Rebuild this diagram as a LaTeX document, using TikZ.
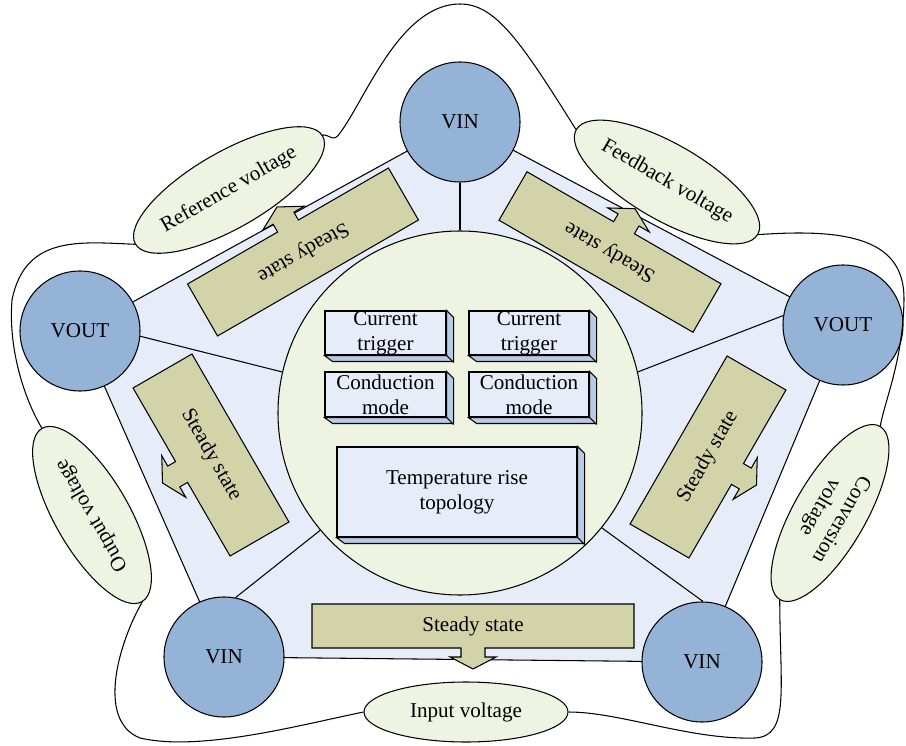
\documentclass[tikz,border=0pt]{standalone}
\usepackage{tikz}
\usepackage{xcolor}
\usepackage{fontspec}
\setmainfont{Liberation Serif}
\usetikzlibrary{shapes.geometric}

\definecolor{vblue}{HTML}{95B3D7}
\definecolor{pentfill}{HTML}{E6EDF8}
\definecolor{palegreen}{HTML}{EEF4E1}
\definecolor{stateolive}{HTML}{D3D3AA}
\definecolor{cubeface}{HTML}{E6EDF8}
\definecolor{cubeside}{HTML}{B7CBE5}

\begin{document}
\begin{tikzpicture}[x=0.2mm, y=-0.2mm, line width=0.6pt,
  every node/.style={font=\fontsize{12}{14}\selectfont},
  volt/.style={circle, draw=black, fill=vblue, minimum size=24mm, inner sep=0pt},
  tagell/.style={ellipse, draw=black, fill=palegreen, inner sep=0pt, align=center, minimum width=40mm},
  statebox/.style={draw=black, fill=stateolive},
  cube/.style={draw=black, fill=cubeface, inner sep=0pt, align=center},
  cubeedge/.style={draw=black, fill=cubeside}]

\useasboundingbox (0,0) rectangle (906,746);

% pentagon corners
\coordinate (pT) at (460,122);
\coordinate (pR) at (843,325);
\coordinate (pBR) at (702,662);
\coordinate (pBL) at (224,657);
\coordinate (pL) at (80,331);

\filldraw[fill=pentfill] (pT) -- (pR) -- (pBR) -- (pBL) -- (pL) -- cycle;

% core
\node[circle, draw=black, fill=palegreen, minimum size=72.8mm] (core) at (460,413) {};

% voltages
\node[volt] (vinT) at (pT) {VIN};
\node[volt] (voutR) at (pR) {VOUT};
\node[volt] (vinR) at (pBR) {VIN};
\node[volt] (vinL) at (pBL) {VIN};
\node[volt] (voutL) at (pL) {VOUT};

\draw (vinT.-90) -- (core.90);
\draw (voutL.-5) -- (core.167);
\draw (voutR.171) -- (core.13);
\draw (vinL.79) -- (core.220);
\draw (vinR.89) -- (core.-39);

% steady state arrows
\begin{scope}[shift={(473,626)}]
\filldraw[statebox] (-161,-22) -- (161,-22) -- (161,22) -- (12,22) -- (12,31) -- (23,31) -- (0,43) -- (-23,31) -- (-12,31) -- (-12,22) -- (-161,22) -- cycle;
\node (ssB) at (0,0) {Steady state};
\end{scope}

\begin{scope}[shift={(303,252)}, rotate=-150]
\filldraw[statebox] (-116,-30) -- (116,-30) -- (116,30) -- (12,30) -- (12,39) -- (24,39) -- (0,52) -- (-24,39) -- (-12,39) -- (-12,30) -- (-116,30) -- cycle;
\node[rotate=-150] (ssTL) at (0,0) {Steady state};
\end{scope}

\begin{scope}[shift={(610,252)}, rotate=150]
\filldraw[statebox] (-112,-28) -- (112,-28) -- (112,28) -- (12,28) -- (12,37) -- (24,37) -- (0,50) -- (-24,37) -- (-12,37) -- (-12,28) -- (-112,28) -- cycle;
\node[rotate=150] (ssTR) at (0,0) {Steady state};
\end{scope}

\begin{scope}[shift={(211,455)}, rotate=-60]
\filldraw[statebox] (-97,-34) -- (97,-34) -- (97,34) -- (12,34) -- (12,43) -- (24,43) -- (0,56) -- (-24,43) -- (-12,43) -- (-12,34) -- (-97,34) -- cycle;
\node[rotate=-60] (ssL) at (0,0) {Steady state};
\end{scope}

\begin{scope}[shift={(708,457)}, rotate=60]
\filldraw[statebox] (-97,-34) -- (97,-34) -- (97,34) -- (12,34) -- (12,43) -- (24,43) -- (0,56) -- (-24,43) -- (-12,43) -- (-12,34) -- (-97,34) -- cycle;
\node[rotate=60] (ssR) at (0,0) {Steady state};
\end{scope}

% blocks in the core
\node[cube, minimum width=24.2mm, minimum height=8.8mm] (ct1) at (385.5,333) {Current\\trigger};
\node[cube, minimum width=24mm, minimum height=8.8mm] (ct2) at (529,333) {Current\\trigger};
\node[cube, minimum width=24.2mm, minimum height=9mm] (cm1) at (385.5,394.5) {Conduction\\mode};
\node[cube, minimum width=24mm, minimum height=9mm] (cm2) at (529,394.5) {Conduction\\mode};
\node[cube, minimum width=48mm, minimum height=18mm] (trt) at (457,492) {Temperature rise\\topology};

\filldraw[cubeedge] (ct1.north east) -- ++(7,7) -- ++(0,44) -- ++(-121,0) -- (ct1.south west) -- (ct1.south east) -- cycle;
\draw (ct1.south east) -- ++(7,7);
\filldraw[cubeedge] (ct2.north east) -- ++(7,7) -- ++(0,44) -- ++(-120,0) -- (ct2.south west) -- (ct2.south east) -- cycle;
\draw (ct2.south east) -- ++(7,7);
\filldraw[cubeedge] (cm1.north east) -- ++(7,7) -- ++(0,45) -- ++(-121,0) -- (cm1.south west) -- (cm1.south east) -- cycle;
\draw (cm1.south east) -- ++(7,7);
\filldraw[cubeedge] (cm2.north east) -- ++(7,7) -- ++(0,45) -- ++(-120,0) -- (cm2.south west) -- (cm2.south east) -- cycle;
\draw (cm2.south east) -- ++(7,7);
\filldraw[cubeedge] (trt.north east) -- ++(7,7) -- ++(0,90) -- ++(-240,0) -- (trt.south west) -- (trt.south east) -- cycle;
\draw (trt.south east) -- ++(7,7);

% voltage tags
\node[tagell, minimum height=15.2mm, rotate=30] (refv) at (229,190) {Reference voltage};
\node[tagell, minimum height=15.2mm, rotate=-30] (fbv) at (667,182) {Feedback voltage};
\node[tagell, minimum height=14.8mm, rotate=120] (outv) at (92,515) {Output voltage};
\node[tagell, minimum height=14.4mm, rotate=-120] (convv) at (830,513) {Conversion\\voltage};
\node[tagell, minimum width=40.8mm, minimum height=12mm] (inp) at (466,712) {Input voltage};

% outer loop
\draw (inp.east) .. controls (620,712) and (690,740) .. (755,738) .. controls (790,736) and (780,690) .. (convv.east);
\draw (fbv.east) .. controls (850,228) and (905,240) .. (904,300) .. controls (903,360) and (885,400) .. (convv.west);
\draw (refv.east) .. controls (320,135) and (325,134) .. (330,137) .. controls (334,139) and (337,138) .. (340,133) .. controls (365,100) and (400,4) .. (460,4) .. controls (495,4) and (520,40) .. (fbv.west);
\draw (refv.west) .. controls (80,242) and (25,235) .. (12,300) .. controls (8,350) and (25,400) .. (outv.east);
\draw (outv.west) .. controls (120,640) and (95,720) .. (140,738) .. controls (200,752) and (300,725) .. (inp.west);

\end{tikzpicture}
\end{document}
